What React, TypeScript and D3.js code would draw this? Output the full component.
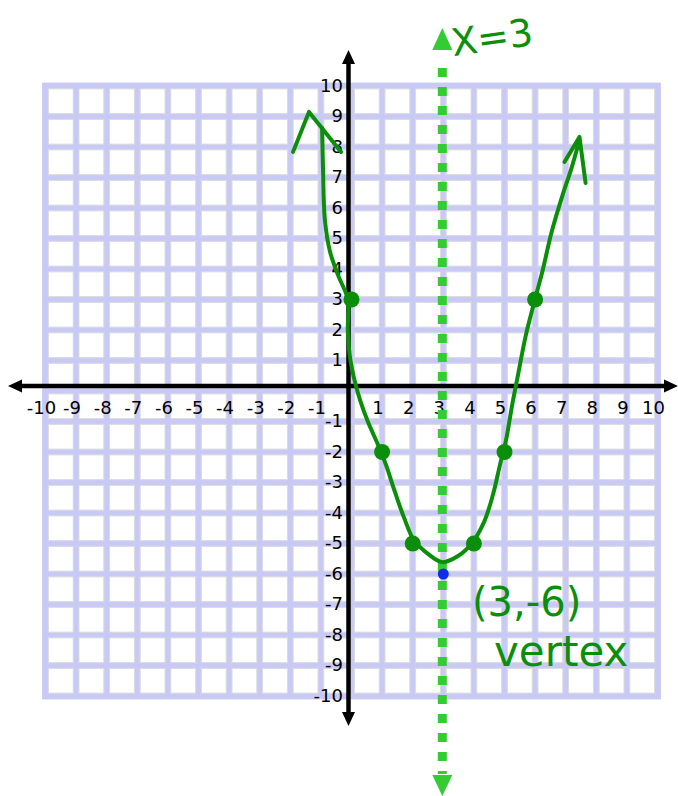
import React from 'react';
import * as d3 from 'd3';

// Graph paper range
const X_TICKS: number[] = d3.range(-10, 11);
const Y_TICKS: number[] = d3.range(-10, 11);

// Plotted points of y = (x - 3)^2 - 6
const POINT_X: number[] = [0, 1, 2, 4, 5, 6];
const POINT_Y: number[] = [3, -2, -5, -5, -2, 3];

// Vertex and axis of symmetry
const VERTEX: [number, number] = [3, -6];
const SYMMETRY_X = 3;

// Hand-sketched stroke through the points (data units)
const SKETCH: [number, number][] = [
  [-0.96, 8.62], [-0.93, 7.25], [-0.87, 5.61], [-0.7, 4.56], [-0.42, 3.75],
  [-0.12, 3.0], [-0.12, 2.0], [-0.06, 1.18], [0.08, 0.43], [0.28, -0.3],
  [0.54, -1.02], [0.87, -1.77], [1.13, -2.43], [1.42, -3.31], [1.72, -4.16],
  [2.04, -4.89], [2.5, -5.34], [2.96, -5.61], [3.48, -5.41], [3.94, -4.98],
  [4.33, -4.3], [4.62, -3.41], [4.85, -2.43], [5.05, -1.61], [5.25, -0.46],
  [5.44, 0.52], [5.7, 1.84], [5.99, 2.98], [6.25, 3.97], [6.54, 5.21],
  [6.9, 6.43], [7.19, 7.31], [7.45, 8.23],
];
const LEFT_HEAD: [number, number][] = [[-1.91, 7.84], [-1.39, 9.15], [-0.34, 7.84]];
const RIGHT_HEAD: [number, number][] = [[6.96, 7.51], [7.45, 8.33], [7.65, 6.82]];

const W = 678;
const H = 796;
const LAVENDER = '#c9c9f5';
const INK = '#0b8f0b';
const DASH_GREEN = '#33cc33';

export default function App() {
  const x = d3.scaleLinear().domain([-10, 10]).range([45.5, 657.5]);
  const y = d3.scaleLinear().domain([-10, 10]).range([696, 86]);

  const line = d3
    .line<[number, number]>()
    .x((d) => x(d[0]))
    .y((d) => y(d[1]))
    .curve(d3.curveCatmullRom.alpha(0.5));
  const straight = d3
    .line<[number, number]>()
    .x((d) => x(d[0]))
    .y((d) => y(d[1]));

  const half = 2.9;
  const cells: { x0: number; x1: number; y0: number; y1: number; k: string }[] = [];
  for (let i = 0; i < X_TICKS.length - 1; i++) {
    for (let j = 0; j < Y_TICKS.length - 1; j++) {
      cells.push({
        x0: x(X_TICKS[i]) + half,
        x1: x(X_TICKS[i + 1]) - half,
        y0: y(Y_TICKS[j + 1]) + half,
        y1: y(Y_TICKS[j]) - half,
        k: `${i}-${j}`,
      });
    }
  }

  const ax = x(0) - 3;
  const ay = y(0) - 5;
  const sx = x(SYMMETRY_X) - 1;
  const font = '"DejaVu Sans", sans-serif';

  return (
    <svg
      width={W}
      height={H}
      style={{ position: 'fixed', left: 0, top: 0, background: '#fff' }}
    >
      {/* graph paper */}
      <rect
        x={x(-10) - half - 0.5}
        y={y(10) - half - 0.5}
        width={x(10) - x(-10) + 2 * half + 1}
        height={y(-10) - y(10) + 2 * half + 1}
        fill={LAVENDER}
      />
      {cells.map((c) => (
        <rect
          key={c.k}
          x={c.x0}
          y={c.y0}
          width={c.x1 - c.x0}
          height={c.y1 - c.y0}
          fill="#fff"
          stroke="#dcdcdc"
          strokeWidth={1}
        />
      ))}

      {/* axes */}
      <line x1={16} x2={W - 12} y1={ay} y2={ay} stroke="#000" strokeWidth={4.5} />
      <path d={`M8,${ay} L22,${ay - 6.5} L22,${ay + 6.5} Z`} fill="#000" />
      <path d={`M${W},${ay} L${W - 14},${ay - 6.5} L${W - 14},${ay + 6.5} Z`} fill="#000" />
      <line x1={ax} x2={ax} y1={58} y2={H - 80} stroke="#000" strokeWidth={4.5} />
      <path d={`M${ax},50 L${ax - 6.5},64 L${ax + 6.5},64 Z`} fill="#000" />
      <path d={`M${ax},${H - 70} L${ax - 6.5},${H - 84} L${ax + 6.5},${H - 84} Z`} fill="#000" />

      {/* tick labels */}
      {X_TICKS.filter((v) => v !== 0).map((v) => (
        <text
          key={`xt${v}`}
          x={x(v) - 4}
          y={414}
          textAnchor="middle"
          fontFamily={font}
          fontSize={18}
          fill="#000"
        >
          {String(v)}
        </text>
      ))}
      {Y_TICKS.filter((v) => v !== 0).map((v) => (
        <text
          key={`yt${v}`}
          x={343}
          y={y(v) - 1}
          textAnchor="end"
          dominantBaseline="central"
          fontFamily={font}
          fontSize={18}
          fill="#000"
        >
          {String(v)}
        </text>
      ))}

      {/* axis of symmetry */}
      <line
        x1={sx}
        x2={sx}
        y1={68}
        y2={H - 22}
        stroke={DASH_GREEN}
        strokeWidth={9}
        strokeDasharray="9 10"
      />
      <path d={`M${sx},28 L${sx - 10},50 L${sx + 10},50 Z`} fill={DASH_GREEN} />
      <path d={`M${sx},${H} L${sx - 10},${H - 21} L${sx + 10},${H - 21} Z`} fill={DASH_GREEN} />
      <text
        x={sx + 9}
        y={52}
        fontFamily={font}
        fontSize={38}
        fill={INK}
        transform={`rotate(-8, ${sx + 40}, 40)`}
      >
        X=3
      </text>

      {/* parabola sketch */}
      <path d={line(SKETCH) ?? ''} fill="none" stroke={INK} strokeWidth={4} strokeLinecap="round" strokeLinejoin="round" />
      <path d={straight(LEFT_HEAD) ?? ''} fill="none" stroke={INK} strokeWidth={4} strokeLinecap="round" strokeLinejoin="round" />
      <path d={straight(RIGHT_HEAD) ?? ''} fill="none" stroke={INK} strokeWidth={4} strokeLinecap="round" strokeLinejoin="round" />

      {POINT_X.map((px, i) => (
        <circle key={`p${i}`} cx={x(px)} cy={y(POINT_Y[i])} r={8} fill={INK} />
      ))}
      <circle cx={x(VERTEX[0])} cy={y(VERTEX[1])} r={5.5} fill="#1030e0" />

      {/* vertex annotation */}
      <text x={472} y={616} fontFamily={font} fontSize={40} fill={INK}>
        {`(${VERTEX[0]},${VERTEX[1]})`}
      </text>
      <text x={494} y={666} fontFamily={font} fontSize={42} fill={INK}>
        vertex
      </text>
    </svg>
  );
}
